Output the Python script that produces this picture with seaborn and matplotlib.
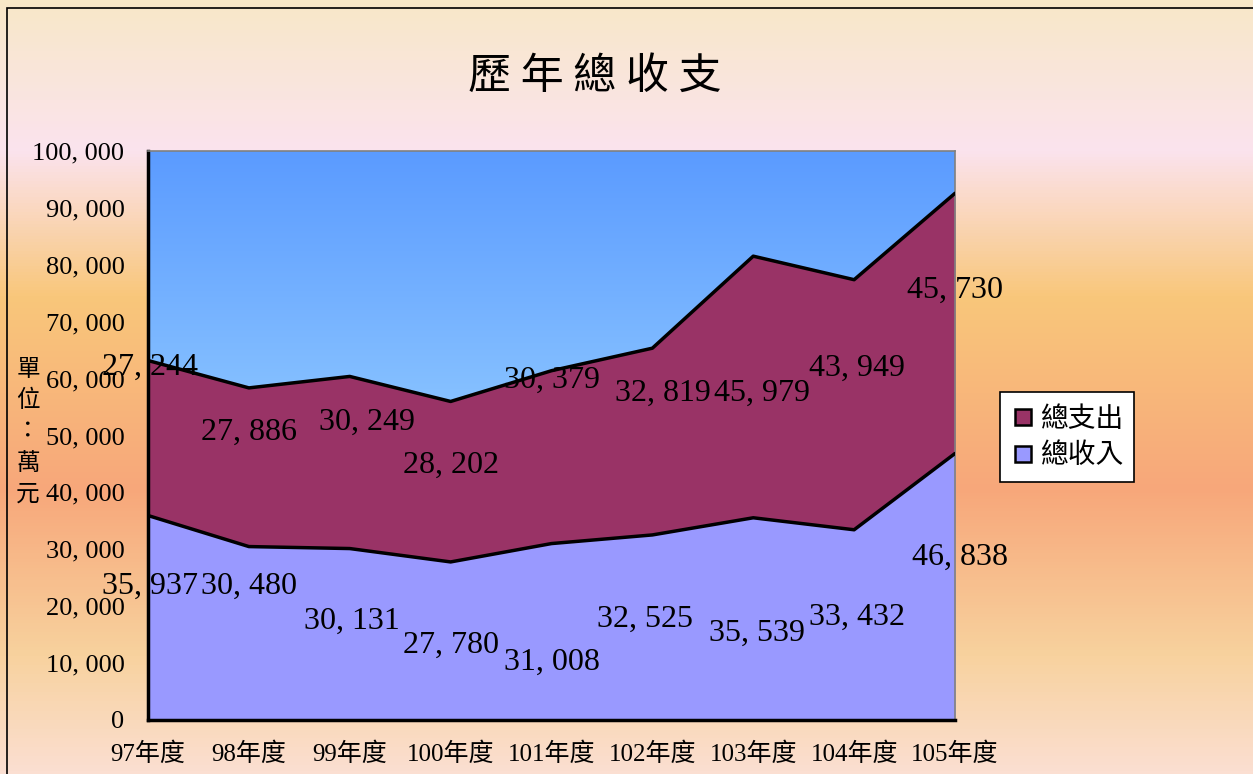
import numpy as np
import pandas as pd
import matplotlib
matplotlib.use("Agg")
import matplotlib.pyplot as plt
import seaborn as sns
from matplotlib.colors import LinearSegmentedColormap
from matplotlib.patches import Rectangle
from matplotlib.lines import Line2D

# 資料
years = ["97年度", "98年度", "99年度", "100年度", "101年度", "102年度", "103年度", "104年度", "105年度"]
income = [35937, 30480, 30131, 27780, 31008, 32525, 35539, 33432, 46838]
expense = [27244, 27886, 30249, 28202, 30379, 32819, 45979, 43949, 45730]

# 標籤位置（版面）
income_lab_y = [23550, 23550, 17400, 13180, 10190, 17750, 15290, 18100, 28650]
income_lab_dx = [0.02, 0.0, 0.02, 0.0, 0.0, -0.07, 0.04, 0.03, 0.05]
expense_lab_y = [62040, 50610, 52370, 44820, 59750, 57470, 57470, 61860, 75570]
expense_lab_dx = [0.02, 0.0, 0.17, 0.0, 0.0, 0.1, 0.09, 0.03, 0.0]

sns.set_theme(style="white")
plt.rcParams['font.family'] = ['Liberation Serif', 'Noto Sans CJK TC', 'DejaVu Sans']
plt.rcParams['text.color'] = 'black'
plt.rcParams['xtick.color'] = 'black'
plt.rcParams['ytick.color'] = 'black'
plt.rcParams['xtick.labelcolor'] = 'black'
plt.rcParams['ytick.labelcolor'] = 'black'

W, H = 1253, 774
fig = plt.figure(figsize=(W / 100, H / 100), dpi=100)
fig.patch.set_facecolor("white")

# 背景漸層
bg = fig.add_axes([0, 0, 1, 1], zorder=0)
stops = [(0.0, "#F8E8C8"), (150 / H, "#FBE3EE"), (296 / H, "#F9C77B"),
         (489 / H, "#F7A77A"), (656 / H, "#F8D29E"), (1.0, "#FBDFD2")]
cmap_bg = LinearSegmentedColormap.from_list("bg", stops)
bg.imshow(np.linspace(0, 1, 256).reshape(-1, 1), aspect="auto", cmap=cmap_bg,
          extent=[0, 1, 0, 1], origin="upper")
bg.set_xlim(0, 1)
bg.set_ylim(0, 1)
bg.axis("off")
fig.patches.append(Rectangle((7 / W, -0.1), 1.2, 1 - 8 / H + 0.1, transform=fig.transFigure,
                             fill=False, edgecolor="black", linewidth=1.2, zorder=1))

ax = fig.add_axes([148 / W, 1 - 720 / H, (955 - 148) / W, (720 - 151) / H], zorder=2)
ax.set_facecolor("none")
cmap_pa = LinearSegmentedColormap.from_list("pa", ["#5B9BFF", "#8CC6FF", "#A8D6FF"])
ax.imshow(np.linspace(0, 1, 256).reshape(-1, 1), aspect="auto", cmap=cmap_pa,
          extent=[0, 8, 0, 100000], origin="upper", zorder=0)

x = np.arange(len(years))
inc = np.array(income)
tot = inc + np.array(expense)
ax.fill_between(x, 0, inc, color="#9999FF", zorder=1, linewidth=0)
ax.fill_between(x, inc, tot, color="#993366", zorder=1, linewidth=0)

df = pd.DataFrame({"x": np.concatenate([x, x]),
                   "y": np.concatenate([inc, tot]),
                   "s": ["總收入"] * len(x) + ["總支出"] * len(x)})
sns.lineplot(data=df, x="x", y="y", hue="s", palette={"總收入": "black", "總支出": "black"},
             linewidth=2.5, legend=False, ax=ax, zorder=3)

for i in range(len(years)):
    ax.text(i + income_lab_dx[i], income_lab_y[i], f"{income[i]:,}".replace(",", ", "),
            ha="center", va="center", fontsize=23, color="black", zorder=5, clip_on=False)
    ax.text(i + expense_lab_dx[i], expense_lab_y[i], f"{expense[i]:,}".replace(",", ", "),
            ha="center", va="center", fontsize=23, color="black", zorder=5, clip_on=False)

ax.set_xlim(0, 8)
ax.set_ylim(0, 100000)
ax.set_yticks(np.arange(0, 100001, 10000))
ax.set_yticklabels([f"{v:,}".replace(",", ", ") for v in range(0, 100001, 10000)], fontsize=19)
ax.set_xticks(x)
ax.set_xticklabels(years, fontsize=18)
ax.tick_params(axis="both", direction="in", length=5, width=1, color="black", labelcolor="black")
ax.tick_params(axis="y", pad=17)
ax.tick_params(axis="x", pad=16)
ax.set_xlabel("")
ax.set_ylabel("")
for s in ["left", "bottom"]:
    ax.spines[s].set_color("black")
    ax.spines[s].set_linewidth(2.5)
for s in ["top", "right"]:
    ax.spines[s].set_color("#808080")
    ax.spines[s].set_linewidth(1.2)

fig.text(595 / W, 1 - 77 / H, "歷 年 總 收 支", ha="center", va="center", fontsize=31,
         family=["Noto Sans CJK TC"], color="black", zorder=5)
fig.text(28 / W, 1 - 432 / H, "單\n位\n：\n萬\n元", ha="center", va="center", fontsize=17,
         family=["Noto Sans CJK TC"], color="black", linespacing=1.45, zorder=5)

handles = [Line2D([], [], marker="s", linestyle="none", markersize=12, markerfacecolor="#993366",
                  markeredgecolor="black", markeredgewidth=1.8),
           Line2D([], [], marker="s", linestyle="none", markersize=12, markerfacecolor="#9999FF",
                  markeredgecolor="black", markeredgewidth=1.8)]
leg = fig.legend(handles, ["總支出", "總收入"], loc="center", bbox_to_anchor=(1067 / W, 1 - 437 / H),
                 frameon=True, fancybox=False, edgecolor="black", facecolor="white", framealpha=1,
                 prop={"family": ["Noto Sans CJK TC"], "size": 20}, handletextpad=0.15,
                 borderpad=0.4, labelspacing=0.25, handlelength=0.9, borderaxespad=0)
leg.get_frame().set_linewidth(1.2)
for t in leg.get_texts():
    t.set_color("black")
leg.set_zorder(6)

fig.savefig("out.png", dpi=100)
